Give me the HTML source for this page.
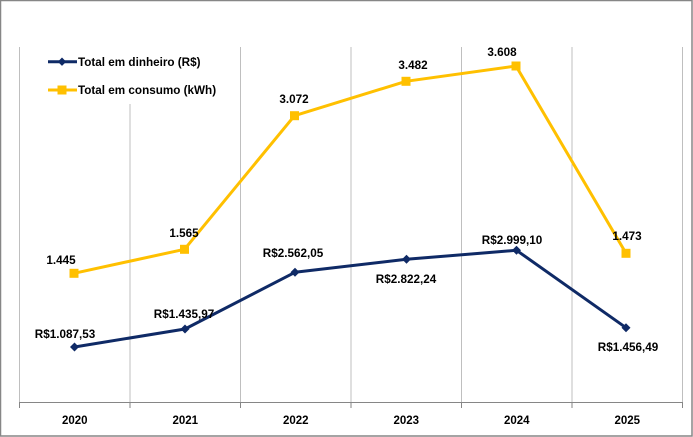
<!DOCTYPE html>
<html><head><meta charset="utf-8"><style>
html,body{margin:0;padding:0;background:#fff;}
svg{display:block;}
text{font-family:"Liberation Sans",Arial,sans-serif;font-weight:bold;fill:#000;}
</style></head><body>
<svg width="693" height="437" viewBox="0 0 693 437" xmlns="http://www.w3.org/2000/svg">
<rect x="0.5" y="0.5" width="691.5" height="435.5" fill="#fff" stroke="#868686" stroke-width="1.5"/>
<g stroke="#BFBFBF" stroke-width="1">
<line x1="19.5" y1="47" x2="19.5" y2="402"/>
<line x1="130" y1="47" x2="130" y2="402"/>
<line x1="240.5" y1="47" x2="240.5" y2="402"/>
<line x1="351" y1="47" x2="351" y2="402"/>
<line x1="461.5" y1="47" x2="461.5" y2="402"/>
<line x1="572" y1="47" x2="572" y2="402"/>
<line x1="682.5" y1="47" x2="682.5" y2="402"/>
</g>
<g stroke="#868686" stroke-width="1">
<line x1="19" y1="402.5" x2="683" y2="402.5"/>
<line x1="19.5" y1="402" x2="19.5" y2="408"/>
<line x1="130" y1="402" x2="130" y2="408"/>
<line x1="240.5" y1="402" x2="240.5" y2="408"/>
<line x1="351" y1="402" x2="351" y2="408"/>
<line x1="461.5" y1="402" x2="461.5" y2="408"/>
<line x1="572" y1="402" x2="572" y2="408"/>
<line x1="682.5" y1="402" x2="682.5" y2="408"/>
</g>
<!-- legend background -->
<rect x="40" y="47" width="190" height="57" fill="#fff"/>
<!-- yellow series -->
<polyline points="74,273.3 184.5,249.3 294.5,115.7 406,81.3 516,66 626,253.3" fill="none" stroke="#FFC000" stroke-width="3" stroke-linejoin="round"/>
<g fill="#FFC000">
<rect x="69.5" y="268.8" width="9" height="9"/>
<rect x="180" y="244.8" width="9" height="9"/>
<rect x="290" y="111.2" width="9" height="9"/>
<rect x="401.5" y="76.8" width="9" height="9"/>
<rect x="511.5" y="61.5" width="9" height="9"/>
<rect x="621.5" y="248.8" width="9" height="9"/>
</g>
<!-- navy series -->
<polyline points="74.5,347 185,329 295,272.3 406.5,259.3 516.5,250.3 626,327.7" fill="none" stroke="#0F2A66" stroke-width="3" stroke-linejoin="round"/>
<g fill="#0F2A66">
<polygon points="74.5,342.5 79,347 74.5,351.5 70,347"/>
<polygon points="185,324.5 189.5,329 185,333.5 180.5,329"/>
<polygon points="295,267.8 299.5,272.3 295,276.8 290.5,272.3"/>
<polygon points="406.5,254.8 411,259.3 406.5,263.8 402,259.3"/>
<polygon points="516.5,245.8 521,250.3 516.5,254.8 512,250.3"/>
<polygon points="626,323.2 630.5,327.7 626,332.2 621.5,327.7"/>
</g>
<!-- data labels -->
<g font-size="11.7" text-anchor="middle">
<text x="61" y="264">1.445</text>
<text x="184" y="237">1.565</text>
<text x="294" y="103">3.072</text>
<text x="413" y="69">3.482</text>
<text x="502" y="56">3.608</text>
<text x="627" y="240">1.473</text>
<text x="65" y="338">R$1.087,53</text>
<text x="184" y="318">R$1.435,97</text>
<text x="293" y="257">R$2.562,05</text>
<text x="406" y="283">R$2.822,24</text>
<text x="512" y="244">R$2.999,10</text>
<text x="628" y="351">R$1.456,49</text>
</g>
<!-- axis labels -->
<g font-size="11.5" text-anchor="middle">
<text x="74.75" y="424">2020</text>
<text x="185.25" y="424">2021</text>
<text x="295.75" y="424">2022</text>
<text x="406.25" y="424">2023</text>
<text x="516.75" y="424">2024</text>
<text x="627.25" y="424">2025</text>
</g>
<!-- legend -->
<line x1="48" y1="61.7" x2="77" y2="61.7" stroke="#0F2A66" stroke-width="3"/>
<polygon points="62,57.5 66.2,61.7 62,65.9 57.8,61.7" fill="#0F2A66"/>
<text x="78" y="65.8" font-size="11.7">Total em dinheiro (R$)</text>
<line x1="48" y1="90" x2="77" y2="90" stroke="#FFC000" stroke-width="3"/>
<rect x="57.5" y="85.5" width="9" height="9" fill="#FFC000"/>
<text x="78" y="94.1" font-size="11.7">Total em consumo (kWh)</text>
</svg>
</body></html>
